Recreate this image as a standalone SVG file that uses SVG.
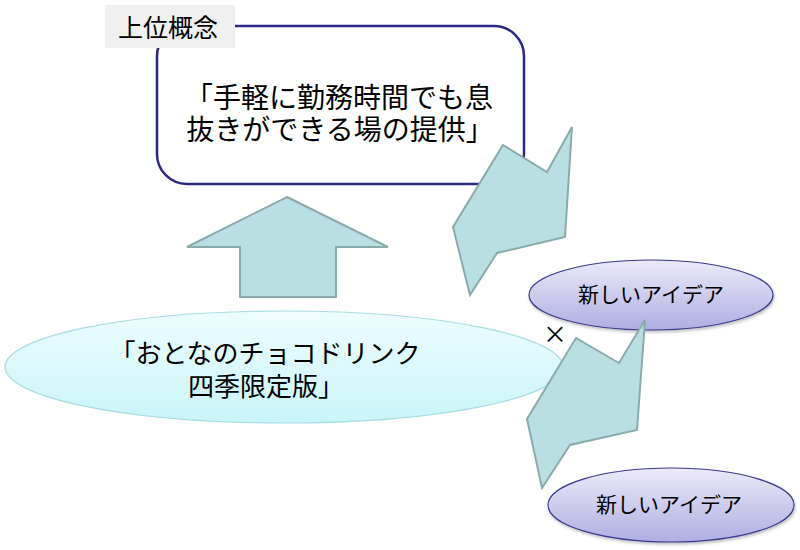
<svg xmlns="http://www.w3.org/2000/svg" width="800" height="550" viewBox="0 0 800 550">
<defs>
<linearGradient id="gIdea" x1="0" y1="0" x2="0" y2="1">
<stop offset="0" stop-color="#eceaf9"/>
<stop offset="1" stop-color="#aeaee2"/>
</linearGradient>
<linearGradient id="gMain" x1="0" y1="0" x2="0" y2="1">
<stop offset="0" stop-color="#eefdff"/>
<stop offset="1" stop-color="#c9f4f8"/>
</linearGradient>
<filter id="sh" x="-10%" y="-10%" width="120%" height="130%">
<feDropShadow dx="1" dy="2" stdDeviation="1.5" flood-color="#000" flood-opacity="0.25"/>
</filter>
</defs>
<style>
text{font-family:"Noto Sans CJK JP","Noto Sans CJK SC",sans-serif;fill:#000;}
.arrow{fill:#badfe2;stroke:#8aabab;stroke-width:2;stroke-linejoin:miter;}
.idea{fill:url(#gIdea);stroke:#3a3a90;stroke-width:1.2;}
.big{font-size:26px;}
.top{font-size:28px;}
.mid{font-size:21px;}
</style>
<rect width="800" height="550" fill="#fff"/>

<g id="concept">
<rect x="157" y="26" width="367" height="158" rx="30" ry="30" fill="#fff" stroke="#2a2a86" stroke-width="2.5"/>
<text class="top" x="339" y="108" text-anchor="middle">「手軽に勤務時間でも息</text>
<text class="top" x="340" y="140" text-anchor="middle">抜きができる場の提供」</text>
</g>

<g id="label">
<rect x="105" y="5" width="130" height="43" fill="#f0f0f0"/>
<text x="168" y="37" font-size="25" text-anchor="middle">上位概念</text>
</g>

<g id="product">
<ellipse cx="284" cy="367" rx="279" ry="56" fill="url(#gMain)" stroke="#a8dce2" stroke-width="1.2"/>
<text class="big" x="265" y="363" text-anchor="middle">「おとなのチョコドリンク</text>
<text class="big" x="266" y="396" text-anchor="middle">四季限定版」</text>
</g>

<g id="idea1">
<ellipse class="idea" cx="651" cy="295" rx="122" ry="35" filter="url(#sh)"/>
<text class="mid" x="651" y="302" text-anchor="middle">新しいアイデア</text>
</g>

<g id="idea2">
<ellipse class="idea" cx="671" cy="505" rx="123" ry="37" filter="url(#sh)"/>
<text class="mid" x="669" y="512" text-anchor="middle">新しいアイデア</text>
</g>

<g id="connectors">
<polygon class="arrow" points="287,197 388,247 336,247 336,297 240,297 240,247 187,247"/>
<polygon class="arrow" points="503,145 547,172 572,127 565,237 497,253 470,295 453,227"/>
<polygon class="arrow" points="576,338 619,363 645,320 637,430 570,445 542,488 527,419"/>
</g>

<g id="times">
<text x="555" y="343" font-size="24" text-anchor="middle" font-family="'Liberation Sans',sans-serif">×</text>
</g>
</svg>
